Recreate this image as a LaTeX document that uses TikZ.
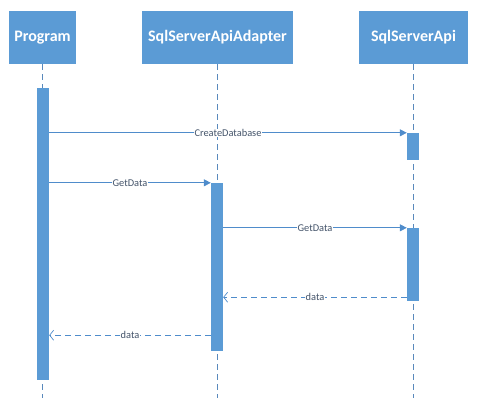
\documentclass[tikz,border=0pt]{standalone}
\usepackage{fontspec}
\setmainfont{Carlito}
\usetikzlibrary{arrows.meta}
\definecolor{boxblue}{HTML}{5B9BD5}
\definecolor{lineblue}{HTML}{4F8CCB}
\definecolor{labelgrey}{HTML}{44546A}
\tikzstyle{actor} = [fill=boxblue, text=white, minimum height=53pt, inner sep=0pt,
    font=\fontsize{16}{19}\selectfont\bfseries]
\tikzstyle{bar} = [fill=boxblue, minimum width=12pt, inner sep=0pt]
\tikzstyle{lifeline} = [draw=lineblue!80!gray, line width=0.6pt, dash pattern=on 6pt off 4pt]
\tikzstyle{call} = [draw=lineblue, line width=0.7pt, -{Triangle[length=7pt,width=7pt]}]
\tikzstyle{reply} = [draw=lineblue, line width=0.7pt, dash pattern=on 6pt off 4pt,
    -{Straight Barb[length=4pt,width=10pt]}]
\tikzstyle{msg} = [fill=white, inner sep=0.5pt, text=labelgrey, font=\fontsize{10.4}{12}\selectfont]

\begin{document}
\begin{tikzpicture}[x=1pt, y=-1pt]
        \useasboundingbox (0,0) rectangle (478,405);
        \node (program)[actor, minimum width=67pt] at (42.5,37.5) {Program};
        \node (adapter)[actor, minimum width=151pt] at (217.5,37.5) {SqlServerApiAdapter};
        \node (api)[actor, minimum width=109pt] at (413.5,37.5) {SqlServerApi};
        \coordinate (bottom) at (0,398);
        \draw [lifeline] (program) -- (program |- bottom);
        \draw [lifeline] (adapter) -- (adapter |- bottom);
        \draw [lifeline] (api) -- (api |- bottom);
        \node (progact)[bar, minimum height=292pt] at (43,234) {};
        \node (apiact1)[bar, minimum height=27pt] at (413,146.5) {};
        \node (adaptact)[bar, minimum height=168pt] at (217,267) {};
        \node (apiact2)[bar, minimum height=73pt] at (413,264.5) {};
        \coordinate (ret1) at ([yshift=4pt]apiact2.south west);
        \coordinate (ret2) at ([yshift=16pt]adaptact.south west);
        \draw [call] (progact.east |- apiact1.north west) -- (apiact1.north west)
            node[msg, midway] {CreateDatabase};
        \draw [call] (progact.east |- adaptact.north west) -- (adaptact.north west)
            node[msg, midway] {GetData};
        \draw [call] (adaptact.east |- apiact2.north west) -- (apiact2.north west)
            node[msg, midway] {GetData};
        \draw [reply] (ret1) -- (adaptact.east |- ret1)
            node[msg, midway] {data};
        \draw [reply] (ret2) -- (progact.east |- ret2)
            node[msg, midway] {data};
    \end{tikzpicture}
\end{document}
